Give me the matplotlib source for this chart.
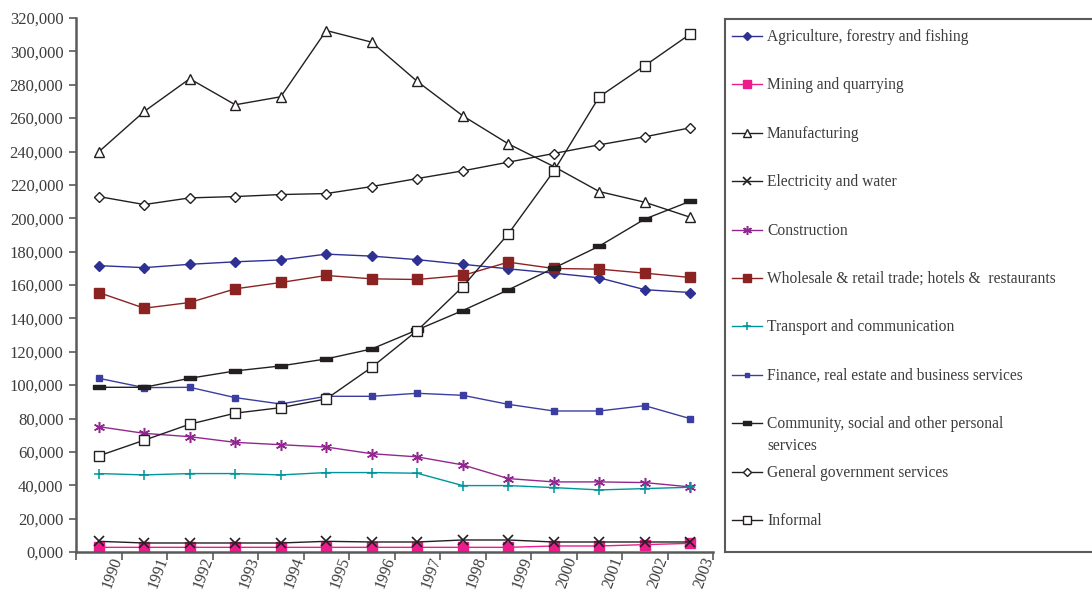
import matplotlib
matplotlib.use("Agg")
import matplotlib.pyplot as plt
import numpy as np

plt.rcParams['font.family'] = ['Liberation Serif', 'DejaVu Serif']

years = [str(y) for y in range(1990, 2004)]

agriculture = [171600, 170400, 172400, 173900, 175000, 178500, 177300, 175200, 172400, 169700, 167100, 164300, 157200, 155500]
mining = [2800, 2800, 2800, 2800, 2800, 2800, 2800, 2800, 2800, 2800, 3600, 3600, 4400, 5200]
manufacturing = [239800, 264000, 283600, 268000, 272800, 312500, 305500, 282000, 261400, 244600, 231000, 216000, 209600, 200600]
electricity = [6400, 5400, 5400, 5400, 5400, 6400, 6000, 6000, 7200, 7200, 6000, 6000, 6000, 6000]
construction = [75100, 71100, 69100, 65700, 64300, 62900, 58900, 57000, 52200, 44000, 42000, 42000, 41600, 39000]
wholesale = [155500, 146100, 149500, 157700, 161500, 165700, 163700, 163300, 165700, 173700, 169900, 169500, 167100, 164500]
transport = [47000, 46200, 47000, 47000, 46200, 47600, 47600, 47200, 39800, 39800, 38600, 37200, 38000, 38800]
finance = [104100, 98500, 98700, 92500, 88700, 93300, 93300, 95100, 93900, 88500, 84500, 84500, 87700, 79900]
community = [98700, 98700, 104100, 108500, 111500, 115700, 121700, 133100, 144700, 157100, 170100, 183300, 199500, 210200]
government = [213000, 208200, 212200, 213000, 214200, 214800, 219000, 223800, 228400, 233600, 238800, 244000, 248800, 254200]
informal = [57600, 67000, 76600, 83200, 86500, 91700, 110700, 132700, 159000, 190600, 228200, 272800, 291400, 310400]

labels = [
    "Agriculture, forestry and fishing",
    "Mining and quarrying",
    "Manufacturing",
    "Electricity and water",
    "Construction",
    "Wholesale & retail trade; hotels &  restaurants",
    "Transport and communication",
    "Finance, real estate and business services",
    "Community, social and other personal\nservices",
    "General government services",
    "Informal",
]
series = [agriculture, mining, manufacturing, electricity, construction, wholesale,
          transport, finance, community, government, informal]

# dash-shaped marker for the community series
dash = [(-1.0, -0.35), (1.0, -0.35), (1.0, 0.35), (-1.0, 0.35), (-1.0, -0.35)]

styles = [
    dict(color='#2e3192', marker='D', ms=5.5, mfc='#2e3192', mec='#2e3192'),
    dict(color='#ec1c8c', marker='s', ms=6.5, mfc='#ec1c8c', mec='#ec1c8c'),
    dict(color='#231f20', marker='^', ms=7.5, mfc='white', mec='#231f20', mew=1.0),
    dict(color='#231f20', marker='x', ms=6.5, mec='#231f20', mew=1.2),
    dict(color='#92278f', marker=(6, 2, 0), ms=8, mec='#92278f', mew=1.1),
    dict(color='#8b2323', marker='s', ms=7.5, mfc='#8b2323', mec='#8b2323'),
    dict(color='#00959a', marker='+', ms=7.5, mec='#00959a', mew=1.1),
    dict(color='#3b3ea0', marker='s', ms=4, mfc='#3b3ea0', mec='#3b3ea0'),
    dict(color='#231f20', marker=dash, ms=8, mfc='#231f20', mec='#231f20'),
    dict(color='#231f20', marker='D', ms=5, mfc='white', mec='#231f20', mew=1.0),
    dict(color='#231f20', marker='s', ms=7, mfc='white', mec='#231f20', mew=1.0),
]

fig = plt.figure(figsize=(10.92, 5.90), dpi=100)
ax = fig.add_axes([76 / 1092, 1 - 552 / 590, 637 / 1092, 534 / 590])

x = np.arange(len(years))
for vals, st in zip(series, styles):
    ax.plot(x, vals, lw=1.0, **st)

ax.set_xlim(-0.5, len(years) - 0.5)
ax.set_ylim(0, 320000)

axis_col = '#5a5a5a'
text_col = '#3c3c3c'
for s in ['top', 'right']:
    ax.spines[s].set_visible(False)
for s in ['left', 'bottom']:
    ax.spines[s].set_color(axis_col)
    ax.spines[s].set_linewidth(1.8)

yt = np.arange(0, 320001, 20000)
ax.set_yticks(yt)
ax.set_yticklabels(["0,000" if v == 0 else f"{v // 1000},000" for v in yt])
ax.tick_params(axis='y', direction='out', length=5, width=1.2, color=axis_col,
               labelsize=12, labelcolor=text_col, pad=4)

# tick marks on the category boundaries, year labels between them
ax.set_xticks(np.arange(-0.5, len(years), 1.0))
ax.set_xticklabels([])
ax.tick_params(axis='x', which='major', direction='out', length=6, width=1.2, color=axis_col)
ax.set_xticks(x + 0.42, minor=True)
ax.set_xticklabels(years, minor=True, rotation=70, ha='right', va='center',
                   rotation_mode='anchor', fontsize=11.5, color=text_col)
ax.tick_params(axis='x', which='minor', length=0, pad=4)

# legend panel
lax = fig.add_axes([725 / 1092, 1 - 552 / 590, 400 / 1092, 533 / 590])
lax.set_xlim(0, 400)
lax.set_ylim(533, 0)
lax.set_xticks([])
lax.set_yticks([])
for s in lax.spines.values():
    s.set_color(axis_col)
    s.set_linewidth(1.5)

for i, (lab, st) in enumerate(zip(labels, styles)):
    yy = 17 + i * 48.4
    kw = dict(st)
    kw['ms'] = kw['ms'] * 0.8
    lax.plot([7, 37], [yy, yy], lw=1.0, color=kw['color'])
    lax.plot([22], [yy], lw=0, **kw)
    lax.text(42, yy - 7, lab, ha='left', va='top', fontsize=11.2,
             color=text_col, linespacing=1.45)

fig.savefig("out.png", dpi=100)
